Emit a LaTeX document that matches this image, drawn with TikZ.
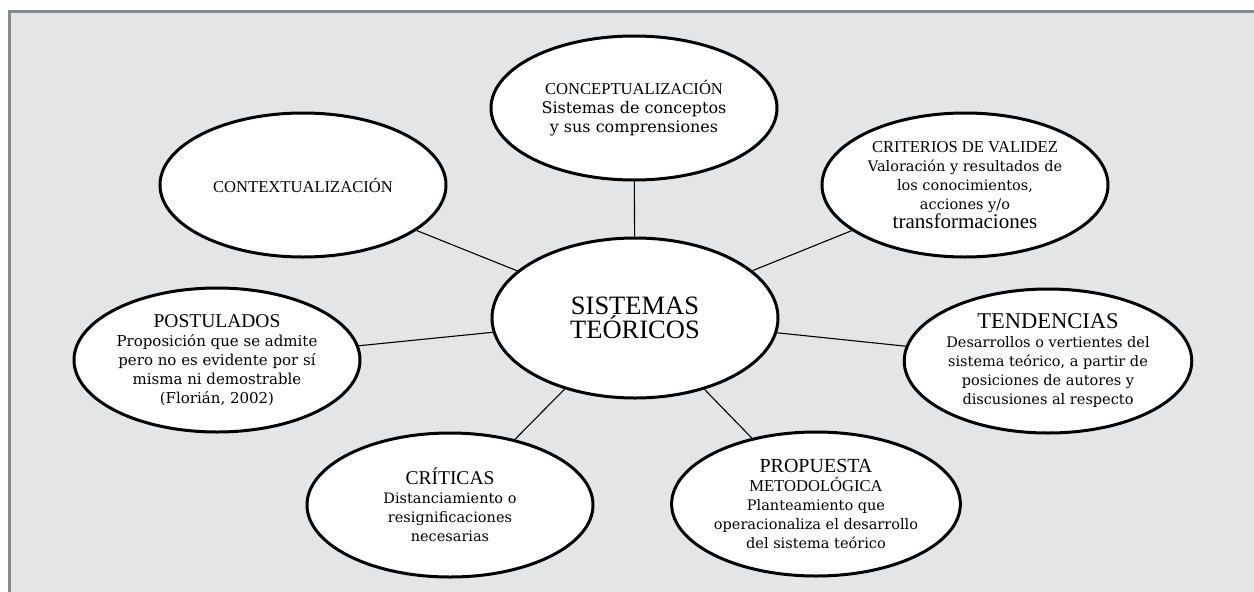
\documentclass[tikz,border=0pt]{standalone}
\usepackage{fontspec}
\setmainfont{DejaVu Serif}
\newfontfamily\headfont{Liberation Serif}
\usetikzlibrary{shapes.geometric}
\definecolor{panel}{HTML}{E4E5E7}
\definecolor{framegray}{HTML}{898A8C}

\begin{document}
\begin{tikzpicture}[x=1pt, y=-1pt,
	idea/.style={ellipse, draw, line width=3pt, fill=white, inner sep=0pt,
		minimum width=286pt, minimum height=144pt, align=center,
		font=\fontsize{14.5}{19}\selectfont},
	hub/.style={idea, minimum height=160pt}]
	\useasboundingbox (0,0) rectangle (1254,592);
	\fill[panel] (8,10) rectangle (1254,592);
	\draw[framegray, line width=3.2pt] (9.6,592) -- (9.6,11.6) -- (1254,11.6);

	\node[hub] (sys) at (635,318) {\headfont\fontsize{26.5}{29}\selectfont SISTEMAS\\ \headfont\fontsize{26.5}{29}\selectfont TEÓRICOS};
	\node[idea] (concept) at (634,108) {{\headfont\fontsize{16.6}{19}\selectfont CONCEPTUALIZACIÓN}\\ \fontsize{16}{20}\selectfont Sistemas de conceptos\\ \fontsize{16}{20}\selectfont y sus comprensiones};
	\node[idea] (context) at (303,185) {\headfont\fontsize{16.6}{19}\selectfont CONTEXTUALIZACIÓN};
	\node[idea] (criteria) at (965,185) {{\headfont\fontsize{16.6}{19}\selectfont CRITERIOS DE VALIDEZ}\\ Valoración y resultados de\\ los conocimientos,\\ acciones y/o\\ {\headfont\fontsize{21}{21}\selectfont transformaciones}};
	\node[idea] (postul) at (217,360) {{\headfont\fontsize{19.5}{19}\selectfont POSTULADOS}\\ \fontsize{15}{19}\selectfont Proposición que se admite\\ \fontsize{15}{19}\selectfont pero no es evidente por sí\\ \fontsize{15}{19}\selectfont misma ni demostrable\\ \fontsize{15}{19}\selectfont (Florián, 2002)};
	\node[idea] (trend) at (1048,361) {{\headfont\fontsize{22.5}{19}\selectfont TENDENCIAS}\\ Desarrollos o vertientes del\\ sistema teórico, a partir de\\ posiciones de autores y\\ discusiones al respecto};
	\node[idea] (critic) at (450,505) {{\headfont\fontsize{19.5}{19}\selectfont CRÍTICAS}\\ Distanciamiento o\\ resignificaciones\\ necesarias};
	\node[idea] (method) at (816,504) {{\headfont\fontsize{20}{19}\selectfont PROPUESTA}\\ {\headfont\fontsize{16.6}{19}\selectfont METODOLÓGICA}\\ Planteamiento que\\ operacionaliza el desarrollo\\ del sistema teórico};

	\draw[line width=1.1pt] (sys) to (concept);
	\draw[line width=1.1pt] (sys) to (context);
	\draw[line width=1.1pt] (sys) to (criteria);
	\draw[line width=1.1pt] (sys) to (postul);
	\draw[line width=1.1pt] (sys) to (trend);
	\draw[line width=1.1pt] (sys) to (critic);
	\draw[line width=1.1pt] (sys) to (method);
\end{tikzpicture}
\end{document}
